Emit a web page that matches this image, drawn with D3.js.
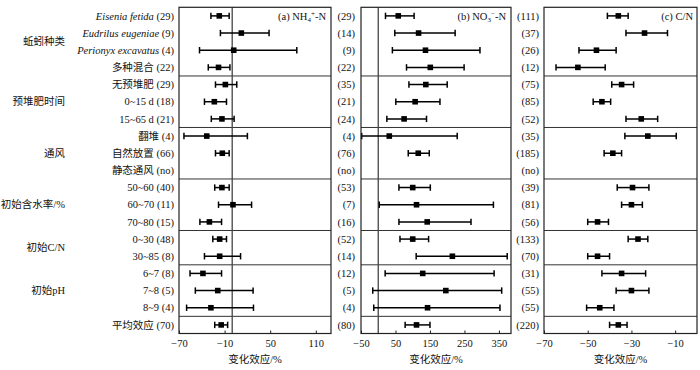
<!DOCTYPE html>
<html>
<head>
<meta charset="utf-8">
<script src="https://cdn.jsdelivr.net/npm/d3@7"></script>
<style>
  body { margin: 0; background: #fff; }
  text { font-family: "Liberation Serif", "Times New Roman", "Noto Sans CJK SC", serif; fill: #111; }
</style>
</head>
<body>
<svg id="chart" width="700" height="370"></svg>
<script>
// row labels (top to bottom); species names are italic
const rowLabels = ['Eisenia fetida', 'Eudrilus eugeniae', 'Perionyx excavatus', '多种混合',
  '无预堆肥', '0~15 d', '15~65 d',
  '翻堆', '自然放置', '静态通风',
  '50~60', '60~70', '70~80',
  '0~30', '30~85',
  '6~7', '7~8', '8~9',
  '平均效应'];
const italicRows = [0, 1, 2];
const groupNames = ['蚯蚓种类', '预堆肥时间', '通风', '初始含水率/%', '初始C/N', '初始pH'];
const groupSizes = [4, 3, 3, 3, 2, 3];

// (a) NH4+-N
const nh4N    = ['29', '9', '4', '22', '29', '18', '21', '4', '66', 'no', '40', '11', '15', '48', '8', '8', '5', '4', '70'];
const nh4Mean = [-17, 12, 2, -18, -9, -23.5, -13.5, -33.5, -13, null, -13.5, 1, -30, -16.5, -16.5, -38.5, -19, -28, -14.5];
const nh4Low  = [-28, -15.5, -43, -31.5, -22, -36.5, -27.5, -63.5, -22, null, -23, -18, -42.5, -25.5, -36.5, -55.5, -48.5, -60, -23];
const nh4High = [-4, 48.5, 85, -3, 6, -7.5, 2.5, 20, -4, null, -4, 25.5, -14, -7.5, 11, -14, 27.5, 28, -6];
const nh4Ticks = [-70, -10, 50, 110];

// (b) NO3--N
const no3N    = ['29', '14', '9', '22', '35', '21', '24', '4', '76', 'no', '53', '7', '16', '52', '14', '12', '5', '4', '80'];
const no3Mean = [58, 117, 137, 151, 138, 107, 75, 32, 116, null, 100, 111, 142, 100, 215, 129, 196, 143, 111];
const no3Low  = [21, 48, 41, 82, 89, 51, 25, -48, 87, null, 60, 3, 60, 63, 110, 20, -16, -13, 78];
const no3High = [104, 223, 295, 249, 200, 179, 140, 229, 148, null, 151, 334, 269, 146, 374, 336, 358, 353, 150];
const no3Ticks = [-50, 50, 150, 250, 350];

// (c) C/N
const cnN    = ['111', '37', '26', '12', '75', '85', '52', '35', '185', 'no', '39', '81', '56', '133', '70', '31', '55', '55', '220'];
const cnMean = [-36, -24, -46, -54.5, -34.5, -43.5, -25.5, -22.5, -38.5, null, -29.5, -30, -45.5, -27, -45.5, -34.5, -30, -44.5, -36];
const cnLow  = [-41, -32.5, -54, -64.5, -39, -47.5, -32.5, -33, -42.5, null, -36.5, -34.5, -50, -31.5, -50, -43.5, -37, -50.5, -40];
const cnHigh = [-31.5, -13.5, -37, -42, -29, -39.5, -18, -9.5, -34.5, null, -22, -25, -40.5, -22.5, -40, -23.5, -22, -38, -32];
const cnTicks = [-70, -50, -30, -10];

const svg = d3.select('#chart');
const fs = 10.5;
const plotTop = 7.3, plotBottom = 333.5;

const y = d3.scaleBand().domain(d3.range(rowLabels.length)).range([plotTop, plotBottom]);
const yc = i => y(i) + y.bandwidth() / 2;

// group boundaries
const groupStart = [];
groupSizes.reduce((acc, s) => { groupStart.push(acc); return acc + s; }, 0);
const sepRows = groupStart.slice(1).concat([rowLabels.length - 1]);

const panels = [
  { n: nh4N, mean: nh4Mean, lo: nh4Low, hi: nh4High, domain: [-70, 130], range: [179, 331], ticks: nh4Ticks, countX: null },
  { n: no3N, mean: no3Mean, lo: no3Low, hi: no3High, domain: [-50, 385], range: [361, 511], ticks: no3Ticks, countX: 355 },
  { n: cnN, mean: cnMean, lo: cnLow, hi: cnHigh, domain: [-70, 0], range: [544, 697], ticks: cnTicks, countX: 539 }
];

// group labels
groupNames.forEach((g, k) => {
  const a = groupStart[k], b = a + groupSizes[k] - 1;
  svg.append('text')
    .attr('x', 65).attr('y', (yc(a) + yc(b)) / 2)
    .attr('dy', '0.35em').attr('text-anchor', 'end')
    .style('font-size', fs + 'px')
    .text(g);
});

// row labels with counts of panel a
rowLabels.forEach((lab, i) => {
  const t = svg.append('text')
    .attr('x', 174).attr('y', yc(i)).attr('dy', '0.35em')
    .attr('text-anchor', 'end').style('font-size', fs + 'px');
  t.append('tspan').style('font-style', italicRows.includes(i) ? 'italic' : 'normal').text(lab);
  t.append('tspan').text(' (' + nh4N[i] + ')');
});

panels.forEach(p => {
  const x = d3.scaleLinear().domain(p.domain).range(p.range);
  const g = svg.append('g');

  // counts
  if (p.countX) {
    g.selectAll('.cnt').data(p.n).join('text')
      .attr('x', p.countX).attr('y', (d, i) => yc(i)).attr('dy', '0.35em')
      .attr('text-anchor', 'end').style('font-size', fs + 'px')
      .text(d => '(' + d + ')');
  }

  // separators
  g.selectAll('.sep').data(sepRows).join('line')
    .attr('x1', p.range[0]).attr('x2', p.range[1])
    .attr('y1', d => y(d)).attr('y2', d => y(d))
    .attr('stroke', '#333').attr('stroke-width', 1);

  // zero line
  if (p.domain[0] < 0 && p.domain[1] > 0) {
    g.append('line')
      .attr('x1', x(0)).attr('x2', x(0)).attr('y1', plotTop).attr('y2', plotBottom)
      .attr('stroke', '#444').attr('stroke-width', 1.3);
  }

  // error bars
  const rows = d3.range(rowLabels.length).filter(i => p.mean[i] != null);
  const eb = g.selectAll('.eb').data(rows).join('g');
  eb.append('line')
    .attr('x1', i => x(p.lo[i])).attr('x2', i => x(p.hi[i]))
    .attr('y1', i => yc(i)).attr('y2', i => yc(i))
    .attr('stroke', '#000').attr('stroke-width', 1.5);
  ['lo', 'hi'].forEach(k => {
    eb.append('line')
      .attr('x1', i => x(p[k][i])).attr('x2', i => x(p[k][i]))
      .attr('y1', i => yc(i) - 3.2).attr('y2', i => yc(i) + 3.2)
      .attr('stroke', '#000').attr('stroke-width', 1.5);
  });
  eb.append('rect')
    .attr('x', i => x(p.mean[i]) - 2.8).attr('y', i => yc(i) - 2.8)
    .attr('width', 5.6).attr('height', 5.6).attr('fill', '#000');

  // frame
  g.append('rect')
    .attr('x', p.range[0]).attr('y', plotTop)
    .attr('width', p.range[1] - p.range[0]).attr('height', plotBottom - plotTop)
    .attr('fill', 'none').attr('stroke', '#222').attr('stroke-width', 1.2);

  // axis
  const ax = g.append('g').attr('transform', `translate(0,${plotBottom})`)
    .call(d3.axisBottom(x).tickValues(p.ticks).tickSizeInner(-3).tickSizeOuter(0).tickPadding(6.5));
  ax.select('.domain').remove();
  ax.selectAll('text').style('font-size', fs + 'px').attr('fill', '#111')
    .style('font-family', '"Liberation Serif", serif');
  ax.selectAll('line').attr('stroke', '#222');

  g.append('text')
    .attr('x', (p.range[0] + p.range[1]) / 2).attr('y', 359).attr('dy', '0.35em')
    .attr('text-anchor', 'middle').style('font-size', fs + 'px')
    .text('变化效应/%');
});

// panel titles, with sub/superscripts
const ta = svg.append('text').attr('x', 326).attr('y', yc(0)).attr('dy', '0.35em')
  .attr('text-anchor', 'end').style('font-size', fs + 'px');
ta.append('tspan').text('(a) NH');
ta.append('tspan').attr('dy', 2.5).style('font-size', '7px').text('4');
ta.append('tspan').attr('dy', -6.5).style('font-size', '7px').text('+');
ta.append('tspan').attr('dy', 4).text('-N');

const tb = svg.append('text').attr('x', 506).attr('y', yc(0)).attr('dy', '0.35em')
  .attr('text-anchor', 'end').style('font-size', fs + 'px');
tb.append('tspan').text('(b) NO');
tb.append('tspan').attr('dy', 2.5).style('font-size', '7px').text('3');
tb.append('tspan').attr('dy', -6.5).style('font-size', '7px').text('−');
tb.append('tspan').attr('dy', 4).text('-N');

svg.append('text').attr('x', 693).attr('y', yc(0)).attr('dy', '0.35em')
  .attr('text-anchor', 'end').style('font-size', fs + 'px')
  .text('(c) C/N');
</script>
</body>
</html>
